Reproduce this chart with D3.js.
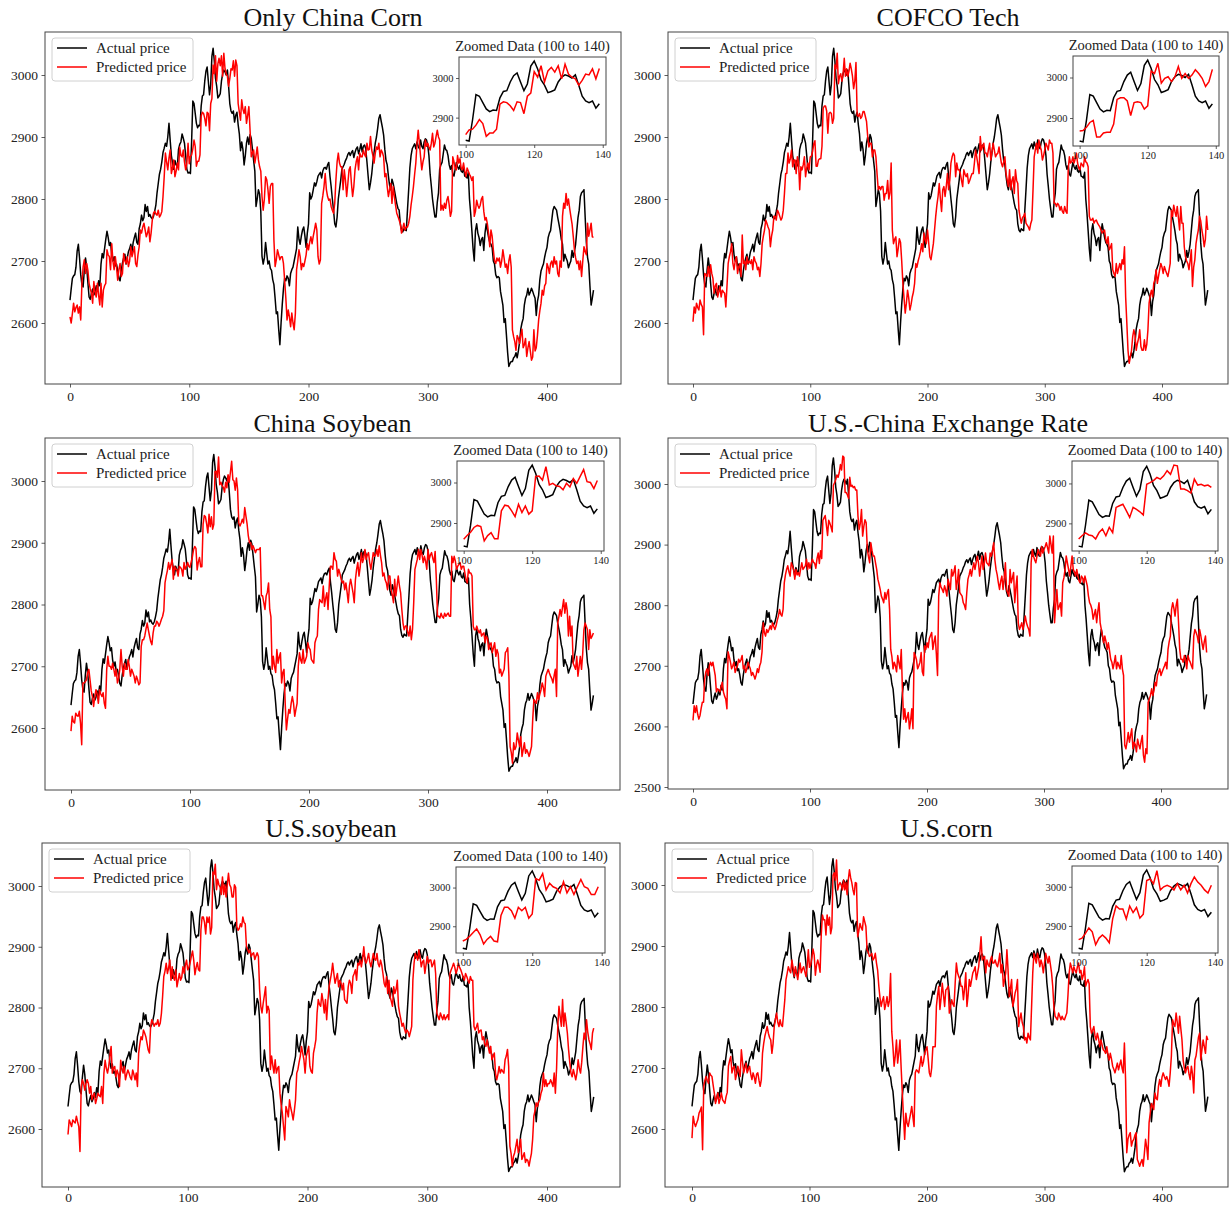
<!DOCTYPE html>
<html><head><meta charset="utf-8">
<script src="https://cdn.jsdelivr.net/npm/d3@7"></script>
<style>body{margin:0;background:#fff}svg{display:block}</style>
</head><body><svg id="c" width="1230" height="1206"></svg>
<script>
const actualPrice = [
2637,2655,2672,2676,2678,2690,2716,2727,2705,2678,
2662,2658,2685,2705,2690,2665,2642,2638,2648,2655,
2645,2650,2660,2652,2668,2660,2695,2712,2705,2720,
2735,2748,2738,2725,2730,2710,2700,2707,2692,2695,
2685,2672,2668,2685,2697,2705,2711,2695,2705,2715,
2720,2727,2715,2730,2738,2745,2730,2727,2752,2760,
2774,2765,2770,2791,2780,2788,2772,2775,2770,2768,
2772,2780,2790,2810,2825,2840,2848,2860,2875,2882,
2890,2885,2900,2922,2895,2870,2858,2848,2862,2855,
2852,2880,2888,2892,2905,2898,2890,2870,2848,2842,
2843,2841,2894,2958,2954,2938,2922,2915,2919,2918,
2950,2966,2968,2990,3006,3013,2990,2968,2985,3030,
3043,3023,2995,2982,2963,2966,2970,2990,3002,3008,
3005,3000,3008,2982,2954,2942,2938,2942,2924,2935,
2940,2920,2905,2878,2892,2880,2855,2870,2890,2900,
2888,2904,2898,2880,2862,2845,2788,2800,2815,2808,
2780,2708,2695,2705,2730,2712,2695,2700,2688,2685,
2670,2662,2640,2615,2618,2590,2565,2600,2630,2655,
2672,2668,2676,2672,2660,2680,2686,2690,2700,2710,
2720,2755,2735,2727,2740,2750,2755,2740,2722,2745,
2760,2810,2800,2805,2815,2826,2821,2828,2837,2840,
2843,2834,2845,2850,2851,2848,2855,2859,2837,2820,
2800,2782,2760,2755,2771,2800,2815,2830,2848,2852,
2856,2862,2866,2872,2875,2870,2875,2878,2867,2875,
2881,2884,2873,2880,2889,2876,2885,2887,2881,2860,
2837,2815,2826,2840,2860,2875,2890,2900,2914,2930,
2936,2925,2915,2903,2880,2862,2855,2837,2822,2815,
2832,2825,2815,2804,2793,2785,2782,2760,2750,2747,
2752,2750,2749,2782,2815,2850,2870,2881,2885,2889,
2881,2892,2885,2881,2895,2885,2881,2892,2897,2895,
2887,2870,2840,2821,2800,2785,2771,2771,2795,2810,
2848,2855,2859,2873,2887,2880,2878,2870,2855,2848,
2854,2840,2837,2848,2859,2852,2848,2854,2845,2843,
2851,2837,2836,2834,2843,2800,2777,2749,2720,2700,
2749,2760,2745,2738,2725,2735,2738,2717,2745,2760,
2749,2738,2730,2727,2722,2700,2695,2678,2673,2675,
2673,2651,2640,2629,2601,2607,2580,2552,2530,2535,
2538,2538,2544,2546,2552,2544,2555,2569,2590,2600,
2607,2629,2640,2645,2656,2645,2650,2656,2651,2645,
2640,2612,2635,2645,2670,2684,2690,2695,2706,2715,
2722,2738,2745,2749,2766,2782,2788,2785,2782,2770,
2760,2749,2735,2727,2700,2711,2705,2700,2689,2695,
2700,2717,2706,2715,2727,2749,2770,2782,2804,2810,
2812,2815,2771,2730,2706,2695,2660,2629,2640,2653];

const predOnlyChinaCorn = [
2610,2600,2615,2632,2618,2625,2629,2616,2626,2605,
2664,2690,2702,2680,2696,2685,2664,2655,2648,2632,
2667,2650,2642,2664,2645,2629,2664,2626,2653,2660,
2664,2718,2710,2707,2686,2728,2700,2686,2707,2690,
2669,2686,2696,2675,2680,2712,2700,2696,2707,2691,
2700,2723,2707,2715,2723,2696,2691,2710,2723,2750,
2745,2755,2761,2750,2739,2745,2755,2731,2745,2766,
2777,2780,2776,2774,2782,2771,2774,2780,2804,2836,
2874,2860,2847,2866,2879,2841,2850,2863,2836,2845,
2858,2847,2884,2870,2868,2879,2860,2847,2858,2890,
2857,2869,2871,2881,2895,2885,2853,2861,2861,2871,
2934,2940,2938,2930,2918,2940,2938,2910,2954,2962,
3016,3002,3031,2990,3018,3027,3015,3031,2998,3035,
3010,3002,2998,2982,2994,3010,3008,3023,2998,3024,
3015,2954,2940,2927,2960,2945,2938,2949,2922,2935,
2949,2911,2868,2875,2879,2858,2870,2884,2863,2852,
2845,2804,2782,2800,2836,2831,2815,2793,2820,2825,
2825,2734,2691,2702,2718,2710,2702,2707,2707,2696,
2669,2640,2605,2621,2610,2594,2616,2600,2589,2616,
2686,2700,2718,2707,2686,2696,2691,2700,2710,2728,
2718,2730,2739,2728,2740,2750,2761,2750,2707,2695,
2702,2793,2805,2820,2841,2815,2804,2798,2800,2788,
2782,2777,2793,2831,2860,2874,2858,2852,2852,2815,
2847,2830,2804,2825,2847,2852,2825,2804,2820,2847,
2860,2868,2847,2874,2868,2868,2879,2872,2868,2890,
2879,2880,2901,2879,2870,2858,2874,2884,2880,2890,
2868,2879,2875,2868,2836,2841,2820,2804,2815,2825,
2793,2820,2804,2790,2777,2772,2766,2760,2745,2752,
2761,2750,2755,2755,2761,2772,2790,2804,2820,2840,
2858,2890,2911,2890,2868,2847,2860,2868,2895,2885,
2890,2884,2879,2890,2906,2884,2890,2901,2911,2900,
2895,2782,2790,2782,2793,2785,2798,2804,2790,2772,
2780,2868,2860,2850,2847,2870,2858,2865,2850,2847,
2858,2845,2836,2850,2845,2840,2836,2830,2836,2772,
2780,2798,2790,2785,2790,2800,2804,2780,2766,2770,
2760,2745,2723,2750,2740,2718,2700,2696,2705,2700,
2705,2690,2700,2718,2705,2690,2695,2680,2700,2710,
2690,2589,2578,2570,2556,2580,2575,2567,2580,2590,
2560,2565,2575,2546,2560,2570,2555,2540,2545,2589,
2555,2560,2580,2605,2620,2632,2653,2645,2660,2664,
2696,2690,2680,2696,2700,2690,2707,2695,2700,2680,
2675,2700,2690,2772,2793,2785,2809,2790,2800,2785,
2772,2760,2740,2718,2705,2696,2700,2686,2700,2675,
2700,2723,2715,2710,2761,2740,2750,2761,2739,2738];

const predCofcoTech = [
2602,2626,2616,2632,2625,2621,2637,2630,2626,2581,
2680,2678,2675,2691,2675,2694,2680,2672,2648,2660,
2664,2642,2650,2659,2642,2653,2650,2648,2626,2660,
2696,2707,2715,2728,2696,2686,2700,2707,2680,2690,
2696,2675,2742,2696,2700,2686,2707,2696,2700,2696,
2702,2686,2707,2700,2696,2686,2690,2675,2696,2728,
2740,2750,2766,2761,2755,2750,2723,2740,2750,2772,
2772,2766,2782,2778,2772,2766,2770,2782,2809,2841,
2841,2874,2858,2865,2879,2852,2863,2863,2841,2868,
2860,2815,2852,2847,2855,2868,2836,2850,2858,2847,
2868,2869,2877,2889,2894,2853,2853,2863,2865,2865,
2885,2946,2950,2950,2942,2906,2938,2940,2938,2922,
2930,3016,3010,3035,2986,2998,3002,2990,3002,3027,
2998,3010,2998,3006,3019,3010,2998,2978,2990,3020,
2935,2933,2938,2930,2933,2941,2941,2933,2925,2901,
2884,2890,2890,2868,2879,2879,2868,2840,2815,2820,
2815,2820,2820,2798,2809,2809,2830,2800,2810,2858,
2750,2728,2735,2739,2707,2720,2736,2730,2700,2664,
2640,2616,2632,2653,2640,2621,2630,2642,2650,2664,
2696,2690,2700,2707,2715,2728,2715,2745,2735,2728,
2750,2730,2707,2702,2715,2728,2750,2772,2790,2804,
2825,2800,2780,2815,2820,2804,2820,2841,2815,2830,
2858,2868,2874,2870,2836,2858,2847,2847,2841,2830,
2820,2847,2840,2836,2841,2825,2830,2836,2841,2841,
2858,2879,2868,2855,2841,2901,2879,2885,2890,2874,
2874,2868,2880,2890,2863,2875,2890,2879,2868,2872,
2874,2884,2870,2858,2852,2860,2868,2841,2830,2820,
2847,2815,2830,2836,2809,2847,2830,2825,2782,2770,
2761,2770,2772,2777,2761,2758,2755,2750,2760,2766,
2815,2868,2880,2890,2874,2895,2885,2879,2863,2870,
2879,2890,2885,2879,2895,2890,2890,2874,2793,2793,
2788,2793,2790,2782,2788,2780,2777,2788,2780,2777,
2847,2868,2858,2860,2868,2858,2865,2874,2858,2850,
2847,2858,2855,2852,2868,2860,2858,2852,2772,2766,
2766,2769,2761,2765,2766,2761,2758,2755,2750,2745,
2748,2750,2735,2728,2739,2718,2722,2728,2686,2680,
2675,2696,2680,2688,2696,2686,2702,2695,2723,2642,
2600,2556,2535,2545,2556,2578,2589,2580,2556,2567,
2575,2589,2562,2556,2556,2573,2556,2565,2589,2632,
2645,2653,2642,2664,2670,2686,2664,2675,2686,2696,
2690,2680,2691,2685,2680,2675,2685,2696,2782,2772,
2790,2780,2772,2788,2770,2750,2788,2761,2761,2723,
2707,2700,2696,2686,2700,2718,2659,2690,2702,2728,
2740,2750,2772,2765,2750,2739,2723,2735,2772,2750];

const predChinaSoybean = [
2595,2619,2610,2608,2624,2620,2619,2627,2608,2573,
2673,2673,2675,2678,2690,2695,2678,2660,2651,2635,
2651,2662,2655,2640,2662,2655,2651,2657,2640,2632,
2695,2716,2700,2700,2695,2705,2695,2684,2695,2673,
2680,2695,2727,2700,2684,2705,2695,2695,2711,2700,
2684,2695,2690,2684,2673,2684,2678,2670,2673,2732,
2743,2743,2749,2760,2770,2759,2749,2740,2735,2754,
2765,2765,2773,2770,2765,2770,2776,2781,2790,2835,
2846,2855,2868,2857,2865,2873,2841,2862,2857,2857,
2846,2862,2860,2857,2846,2868,2857,2862,2868,2862,
2860,2869,2877,2889,2894,2891,2856,2869,2876,2861,
2861,2930,2944,2942,2930,2916,2946,2926,2942,2922,
2930,3015,3016,3006,3039,2994,2998,2992,2990,2982,
2998,2989,3010,2998,3015,3032,3002,3000,2985,3005,
2986,2932,2927,2932,2938,2932,2957,2943,2930,2911,
2900,2900,2889,2895,2890,2884,2889,2889,2889,2892,
2814,2814,2803,2792,2814,2820,2835,2792,2780,2695,
2716,2700,2690,2727,2705,2715,2722,2673,2690,2695,
2640,2597,2615,2630,2624,2640,2651,2640,2619,2630,
2640,2700,2722,2710,2705,2727,2705,2710,2716,2738,
2730,2727,2711,2708,2705,2738,2745,2749,2792,2808,
2805,2803,2830,2797,2810,2819,2792,2830,2862,2862,
2857,2884,2873,2870,2846,2857,2850,2841,2835,2838,
2824,2835,2820,2803,2830,2841,2830,2819,2803,2840,
2857,2868,2846,2860,2884,2868,2875,2889,2873,2880,
2884,2868,2857,2870,2884,2878,2880,2889,2878,2895,
2880,2868,2846,2851,2840,2835,2824,2846,2846,2824,
2815,2803,2841,2814,2830,2846,2830,2819,2792,2770,
2759,2765,2765,2755,2749,2765,2743,2760,2803,2857,
2865,2873,2889,2873,2889,2880,2868,2878,2870,2857,
2889,2873,2880,2884,2875,2868,2886,2841,2781,2781,
2778,2786,2780,2778,2786,2781,2784,2786,2781,2781,
2878,2868,2878,2870,2857,2862,2865,2868,2857,2862,
2862,2851,2840,2835,2857,2851,2851,2846,2765,2759,
2759,2765,2758,2754,2759,2749,2752,2754,2738,2749,
2745,2727,2735,2738,2722,2730,2738,2716,2727,2720,
2689,2695,2684,2690,2695,2722,2725,2730,2684,2570,
2560,2543,2576,2565,2570,2592,2580,2570,2586,2554,
2565,2576,2559,2565,2560,2554,2562,2570,2614,2646,
2643,2640,2657,2646,2655,2662,2673,2665,2651,2684,
2690,2695,2689,2684,2680,2673,2685,2695,2651,2770,
2780,2792,2781,2795,2808,2786,2803,2790,2749,2781,
2749,2765,2705,2700,2695,2716,2684,2700,2716,2695,
2720,2759,2770,2765,2759,2727,2759,2745,2749,2754];

const predExchangeRate = [
2610,2634,2623,2634,2620,2612,2618,2630,2640,2640,
2678,2690,2695,2684,2700,2706,2700,2706,2695,2684,
2657,2662,2660,2657,2665,2673,2657,2650,2645,2629,
2723,2715,2706,2695,2700,2706,2689,2695,2700,2711,
2706,2710,2717,2695,2700,2689,2695,2706,2700,2695,
2684,2689,2684,2678,2685,2695,2689,2700,2706,2723,
2771,2755,2749,2760,2755,2760,2766,2760,2771,2765,
2760,2766,2775,2782,2793,2785,2782,2793,2837,2850,
2859,2865,2855,2848,2870,2865,2859,2843,2859,2850,
2854,2848,2860,2870,2859,2862,2865,2876,2859,2870,
2861,2869,2876,2871,2869,2861,2877,2886,2869,2890,
2877,2940,2944,2948,2932,2915,2940,2935,2929,2921,
2998,3002,3007,3015,3011,3019,3032,3023,3046,3044,
2986,2986,2982,2976,3011,2996,2998,2994,2996,2990,
2990,2947,2925,2935,2958,2914,2930,2941,2936,2892,
2880,2870,2903,2890,2881,2881,2870,2859,2843,2835,
2826,2815,2810,2804,2821,2810,2820,2826,2793,2727,
2715,2695,2706,2700,2690,2717,2705,2695,2727,2660,
2612,2629,2607,2615,2623,2596,2610,2629,2596,2722,
2717,2710,2695,2700,2706,2722,2690,2684,2733,2727,
2738,2730,2745,2750,2755,2727,2740,2749,2720,2684,
2815,2837,2830,2826,2821,2832,2825,2815,2843,2835,
2826,2859,2848,2855,2865,2826,2840,2859,2821,2818,
2815,2804,2800,2793,2821,2843,2850,2859,2848,2860,
2870,2859,2870,2881,2870,2848,2865,2881,2859,2870,
2886,2870,2868,2865,2886,2881,2890,2903,2875,2859,
2850,2837,2826,2840,2848,2826,2845,2870,2826,2820,
2815,2859,2837,2845,2854,2804,2830,2848,2771,2760,
2765,2771,2760,2770,2782,2771,2765,2760,2749,2870,
2892,2881,2875,2870,2881,2892,2885,2881,2897,2886,
2892,2897,2903,2895,2886,2914,2900,2886,2914,2771,
2800,2826,2793,2798,2804,2782,2837,2845,2859,2881,
2870,2859,2848,2865,2881,2859,2855,2848,2859,2848,
2840,2837,2848,2845,2837,2848,2840,2832,2815,2804,
2800,2793,2777,2785,2793,2771,2790,2804,2771,2760,
2749,2738,2749,2740,2727,2738,2725,2711,2706,2695,
2705,2717,2695,2706,2700,2695,2717,2695,2684,2569,
2563,2575,2590,2574,2585,2596,2563,2574,2570,2558,
2579,2570,2563,2575,2585,2552,2541,2563,2555,2640,
2645,2651,2662,2651,2660,2673,2667,2684,2690,2695,
2684,2690,2695,2700,2706,2695,2727,2740,2749,2793,
2804,2795,2782,2800,2810,2771,2727,2711,2711,2706,
2717,2710,2695,2717,2710,2706,2700,2695,2749,2760,
2755,2749,2738,2760,2750,2738,2727,2740,2749,2722];

const predUsSoybean = [
2591,2615,2610,2604,2615,2612,2610,2621,2612,2604,
2563,2670,2681,2675,2664,2675,2681,2675,2659,2670,
2648,2655,2659,2642,2650,2659,2655,2653,2670,2642,
2692,2713,2700,2692,2703,2720,2736,2692,2700,2703,
2686,2697,2690,2670,2713,2700,2692,2703,2681,2690,
2697,2692,2685,2681,2697,2690,2681,2692,2670,2725,
2740,2752,2747,2763,2758,2752,2741,2730,2725,2769,
2780,2775,2769,2774,2772,2780,2769,2774,2790,2818,
2851,2860,2873,2856,2865,2878,2845,2867,2850,2845,
2862,2834,2845,2856,2845,2850,2867,2856,2870,2878,
2862,2866,2874,2884,2893,2878,2854,2866,2874,2862,
2860,2928,2949,2949,2940,2921,2949,2940,2949,2921,
2932,3023,3019,3036,2994,3011,3002,2998,2986,3015,
2986,3002,2982,3002,3021,3002,2998,2982,2982,3002,
2998,2933,2927,2930,2938,2933,2949,2940,2938,2901,
2895,2890,2895,2884,2888,2890,2879,2885,2890,2884,
2830,2802,2791,2807,2820,2834,2791,2802,2795,2698,
2720,2705,2692,2714,2692,2700,2703,2659,2640,2626,
2604,2582,2637,2630,2620,2648,2635,2626,2615,2630,
2648,2692,2698,2710,2720,2736,2725,2714,2692,2720,
2728,2736,2703,2695,2692,2725,2735,2747,2791,2813,
2805,2802,2823,2810,2791,2813,2780,2810,2834,2845,
2856,2873,2856,2840,2848,2856,2834,2845,2840,2829,
2840,2813,2810,2807,2834,2845,2840,2823,2851,2856,
2862,2845,2873,2870,2878,2867,2880,2900,2878,2873,
2880,2889,2875,2867,2878,2889,2880,2878,2889,2872,
2867,2878,2870,2856,2840,2834,2851,2823,2845,2818,
2810,2802,2834,2823,2830,2845,2802,2790,2780,2769,
2774,2765,2758,2763,2760,2752,2760,2769,2845,2873,
2889,2884,2878,2895,2884,2867,2875,2878,2856,2870,
2884,2873,2878,2878,2867,2872,2878,2856,2791,2785,
2780,2791,2785,2780,2788,2780,2784,2788,2780,2856,
2862,2867,2873,2866,2856,2862,2873,2866,2862,2856,
2850,2845,2856,2851,2845,2840,2851,2845,2845,2769,
2763,2768,2774,2758,2762,2763,2747,2752,2740,2736,
2747,2735,2725,2736,2714,2720,2725,2692,2681,2690,
2703,2692,2698,2695,2692,2714,2720,2731,2703,2572,
2560,2539,2555,2561,2572,2583,2561,2570,2583,2550,
2555,2561,2545,2550,2548,2539,2550,2560,2583,2621,
2630,2643,2637,2645,2648,2659,2665,2692,2670,2681,
2670,2675,2675,2681,2676,2670,2692,2659,2700,2769,
2802,2785,2769,2813,2769,2791,2775,2758,2731,2710,
2692,2686,2698,2690,2681,2692,2714,2700,2692,2710,
2736,2758,2747,2780,2760,2747,2740,2731,2758,2766];

const predUsCorn = [
2585,2621,2610,2604,2610,2615,2626,2630,2636,2566,
2670,2680,2686,2680,2675,2692,2688,2686,2672,2659,
2642,2650,2659,2642,2650,2659,2648,2645,2642,2653,
2660,2703,2712,2719,2692,2700,2703,2681,2690,2703,
2695,2686,2730,2710,2692,2700,2708,2692,2698,2703,
2690,2681,2692,2685,2675,2690,2692,2680,2670,2681,
2724,2740,2752,2760,2768,2757,2750,2746,2724,2740,
2768,2780,2790,2775,2768,2779,2770,2768,2790,2812,
2845,2855,2866,2860,2856,2877,2865,2850,2866,2855,
2845,2860,2872,2856,2862,2866,2858,2850,2866,2894,
2865,2869,2881,2895,2885,2852,2869,2877,2869,2857,
2918,2951,2943,2943,2918,2951,2934,2947,2920,2930,
3016,3020,3008,3041,2992,3000,3004,3000,2992,3008,
2992,3004,2984,3008,3025,3012,3004,2992,2984,3004,
3003,2915,2925,2937,2930,2926,2948,2940,2932,2894,
2890,2883,2885,2888,2877,2880,2888,2872,2860,2834,
2815,2801,2810,2817,2796,2805,2817,2801,2810,2855,
2760,2735,2703,2720,2746,2708,2725,2746,2700,2659,
2620,2583,2626,2610,2604,2615,2625,2637,2620,2604,
2692,2697,2695,2692,2705,2719,2703,2710,2724,2730,
2735,2715,2692,2686,2700,2735,2735,2735,2801,2820,
2834,2796,2815,2839,2820,2801,2828,2830,2834,2790,
2800,2812,2805,2801,2840,2872,2856,2850,2845,2834,
2834,2812,2830,2856,2801,2820,2845,2834,2845,2856,
2860,2866,2845,2855,2866,2890,2915,2877,2880,2883,
2856,2877,2870,2866,2877,2883,2872,2872,2877,2870,
2866,2875,2888,2856,2870,2834,2845,2856,2894,2860,
2817,2830,2845,2801,2810,2823,2830,2845,2768,2780,
2790,2775,2768,2746,2750,2741,2757,2750,2746,2800,
2856,2888,2880,2872,2888,2880,2866,2877,2870,2856,
2872,2888,2880,2872,2883,2870,2856,2834,2800,2785,
2782,2779,2790,2785,2779,2785,2780,2779,2785,2790,
2820,2856,2872,2865,2856,2866,2860,2856,2866,2872,
2856,2860,2845,2852,2866,2834,2840,2845,2838,2768,
2757,2762,2768,2752,2746,2757,2748,2735,2746,2738,
2730,2728,2724,2735,2722,2713,2724,2715,2703,2698,
2692,2700,2708,2697,2705,2713,2700,2692,2741,2681,
2561,2583,2590,2594,2572,2580,2583,2590,2594,2550,
2545,2539,2545,2550,2539,2560,2583,2570,2550,2610,
2626,2642,2637,2632,2659,2650,2648,2670,2681,2670,
2685,2692,2686,2681,2686,2680,2670,2692,2720,2779,
2772,2768,2790,2775,2757,2785,2765,2746,2713,2700,
2692,2700,2703,2690,2681,2703,2690,2659,2713,2720,
2735,2750,2757,2713,2730,2746,2735,2724,2752,2746];

const panelTitles = ["Only China Corn","COFCO Tech","China Soybean","U.S.-China Exchange Rate","U.S.soybean","U.S.corn"];
const predictions = [predOnlyChinaCorn, predCofcoTech, predChinaSoybean, predExchangeRate, predUsSoybean, predUsCorn];
const legendLabels = ["Actual price","Predicted price"];
const xTickValues = [0,100,200,300,400];
const yTickValues = [2600,2700,2800,2900,3000];
const yTickValuesWide = [2500,2600,2700,2800,2900,3000];
const insetXTicks = [100,120,140];
const insetYTicks = [2900,3000];
const zoomStart = 100, zoomEnd = 140;
const insetTitle = "Zoomed Data (100 to 140)";

// layout (pixel positions only)
const layout = [
 {x0:70,  x400:547,  l:45,  r:621,  t:32,  b:384,  yLo:[2600,323],  yHi:[3000,75],  ticks:yTickValues,     pad:3.5, inset:[459,606,57,145]},
 {x0:693, x400:1162, l:668, r:1228, t:32,  b:384,  yLo:[2600,323],  yHi:[3000,75],  ticks:yTickValues,     pad:3.5, inset:[1073,1219,56,146]},
 {x0:71,  x400:547,  l:45,  r:620,  t:438, b:790,  yLo:[2600,728],  yHi:[3000,481], ticks:yTickValues,     pad:3.5, inset:[457,604,461,551]},
 {x0:693, x400:1161, l:668, r:1228, t:438, b:789,  yLo:[2500,787],  yHi:[3000,484], ticks:yTickValuesWide, pad:3.5, inset:[1072,1218,461,551]},
 {x0:68,  x400:547,  l:42,  r:620,  t:843, b:1187, yLo:[2600,1129], yHi:[3000,886], ticks:yTickValues,     pad:1.5, inset:[456,605,867,953]},
 {x0:692, x400:1162, l:665, r:1228, t:843, b:1187, yLo:[2600,1129], yHi:[3000,885], ticks:yTickValues,     pad:1.5, inset:[1072,1218,866,953]}
];

const FONT = "'Palatino Linotype','Book Antiqua',Palatino,'Liberation Serif','Times New Roman',serif";
const svg = d3.select("#c");
svg.append("rect").attr("width",1230).attr("height",1206).attr("fill","#fff");

function styleAxis(g, size){
  g.attr("font-family",FONT).attr("font-size",size);
  g.select(".domain").remove();
  g.selectAll(".tick line").attr("stroke","#333").attr("stroke-width",0.8);
  g.selectAll(".tick text").attr("fill","#222");
}

layout.forEach((L,i)=>{
  const pred = predictions[i];
  const g = svg.append("g");
  const x = d3.scaleLinear().domain([0,400]).range([L.x0,L.x400]);
  const y = d3.scaleLinear().domain([L.yLo[0],L.yHi[0]]).range([L.yLo[1],L.yHi[1]]);

  const clipId = "clip"+i;
  g.append("clipPath").attr("id",clipId).append("rect")
    .attr("x",L.l).attr("y",L.t).attr("width",L.r-L.l).attr("height",L.b-L.t);

  const line = d3.line().x((d,j)=>x(j)).y(d=>y(d));
  const lines = g.append("g").attr("clip-path",`url(#${clipId})`);
  lines.append("path").datum(actualPrice).attr("d",line).attr("fill","none").attr("stroke","#000").attr("stroke-width",1.5).attr("stroke-linejoin","round");
  lines.append("path").datum(pred).attr("d",line).attr("fill","none").attr("stroke","#ff0000").attr("stroke-width",1.5).attr("stroke-linejoin","round");

  g.append("rect").attr("x",L.l).attr("y",L.t).attr("width",L.r-L.l).attr("height",L.b-L.t)
    .attr("fill","none").attr("stroke","#444").attr("stroke-width",1);

  const gx = g.append("g").attr("transform",`translate(0,${L.b})`)
    .call(d3.axisBottom(x).tickValues(xTickValues).tickSize(3.5).tickPadding(L.pad).tickFormat(d3.format("d")));
  styleAxis(gx,13.5);
  const gy = g.append("g").attr("transform",`translate(${L.l},0)`)
    .call(d3.axisLeft(y).tickValues(L.ticks).tickSize(3.5).tickPadding(3.5).tickFormat(d3.format("d")));
  styleAxis(gy,13.5);

  g.append("text").attr("x",(L.l+L.r)/2).attr("y",L.t-6).attr("text-anchor","middle")
    .attr("font-family",FONT).attr("font-size",26).attr("fill","#111").text(panelTitles[i]);

  // legend
  const lg = g.append("g").attr("transform",`translate(${L.l+7},${L.t+6})`);
  lg.append("rect").attr("width",141).attr("height",43).attr("rx",3)
    .attr("fill","#fff").attr("fill-opacity",0.85).attr("stroke","#d0d0d0").attr("stroke-width",1);
  const colors = ["#000","#ff0000"];
  legendLabels.forEach((lab,k)=>{
    const yy = 10 + k*19;
    lg.append("line").attr("x1",5).attr("x2",35).attr("y1",yy).attr("y2",yy).attr("stroke",colors[k]).attr("stroke-width",1.5);
    lg.append("text").attr("x",44).attr("y",yy).attr("dy","0.35em").attr("font-family",FONT).attr("font-size",15).attr("fill","#222").text(lab);
  });

  // inset
  const [il,ir,it,ib] = L.inset;
  const sa = actualPrice.slice(zoomStart,zoomEnd), sp = pred.slice(zoomStart,zoomEnd);
  const ext = d3.extent(sa.concat(sp));
  const pad = (ext[1]-ext[0])*0.05;
  const ix = d3.scaleLinear().domain([zoomStart-0.05*(zoomEnd-1-zoomStart), zoomEnd-1+0.05*(zoomEnd-1-zoomStart)]).range([il,ir]);
  const iy = d3.scaleLinear().domain([ext[0]-pad, ext[1]+pad]).range([ib,it]);
  const ig = g.append("g");
  ig.append("rect").attr("x",il).attr("y",it).attr("width",ir-il).attr("height",ib-it).attr("fill","#fff");
  const iline = d3.line().x((d,j)=>ix(zoomStart+j)).y(d=>iy(d));
  ig.append("path").datum(sa).attr("d",iline).attr("fill","none").attr("stroke","#000").attr("stroke-width",1.5);
  ig.append("path").datum(sp).attr("d",iline).attr("fill","none").attr("stroke","#ff0000").attr("stroke-width",1.5);
  ig.append("rect").attr("x",il).attr("y",it).attr("width",ir-il).attr("height",ib-it).attr("fill","none").attr("stroke","#444").attr("stroke-width",1);
  const igx = ig.append("g").attr("transform",`translate(0,${ib})`)
    .call(d3.axisBottom(ix).tickValues(insetXTicks).tickSize(3).tickPadding(2.5).tickFormat(d3.format("d")));
  styleAxis(igx,10.5);
  const igy = ig.append("g").attr("transform",`translate(${il},0)`)
    .call(d3.axisLeft(iy).tickValues(insetYTicks).tickSize(3).tickPadding(2.5).tickFormat(d3.format("d")));
  styleAxis(igy,10.5);
  ig.append("text").attr("x",(il+ir)/2).attr("y",it-6).attr("text-anchor","middle")
    .attr("font-family",FONT).attr("font-size",14.5).attr("fill","#222").text(insetTitle);
});
</script></body></html>
